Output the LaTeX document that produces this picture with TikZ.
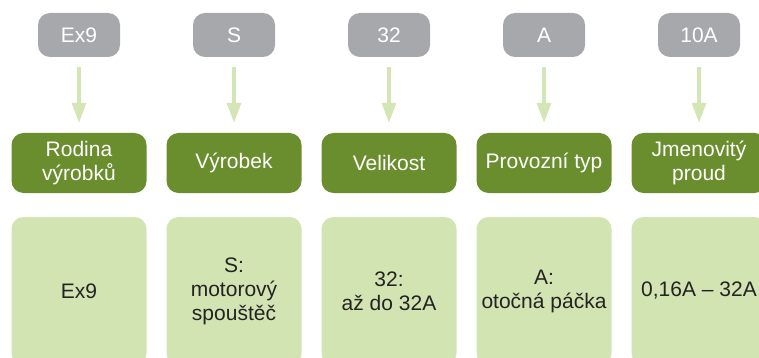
\documentclass[tikz,border=0pt]{standalone}
\usepackage{fontspec}
\setmainfont{Liberation Sans}
\usetikzlibrary{arrows.meta}
\definecolor{codegray}{RGB}{166,168,171}
\definecolor{darkgreen}{RGB}{106,142,46}
\definecolor{lightgreen}{RGB}{211,228,179}
\definecolor{arrowgreen}{RGB}{212,230,181}
\definecolor{textdark}{RGB}{35,35,35}
\tikzset{
  codebox/.style={fill=codegray, draw=none, rounded corners=12pt, minimum width=82pt, minimum height=44pt, text=white, inner sep=0pt, font=\fontsize{21}{24}\selectfont},
  catbox/.style={fill=darkgreen, draw=none, rounded corners=12pt, minimum width=135pt, minimum height=60pt, text=white, inner sep=0pt, align=center, font=\fontsize{21}{24}\selectfont},
  valbox/.style={fill=lightgreen, draw=none, rounded corners=12pt, minimum width=135pt, minimum height=148pt, text=textdark, inner sep=0pt, align=center, font=\fontsize{21}{24}\selectfont},
  codearrow/.style={draw=arrowgreen, line width=3.3pt, -{Triangle[width=14pt,length=20pt]}, shorten <=10pt, shorten >=10pt}
}
\begin{document}
\begin{tikzpicture}[x=1pt,y=-1pt]
\path[use as bounding box] (0,0) rectangle (759,358);
\clip (0,0) rectangle (759,358);
\fill[white] (0,0) rectangle (759,358);
% column 1
\node[codebox] (c1) at (79,35) {Ex9};
\node[catbox] (k1) at (79,163) {Rodina\\výrobků};
\node[valbox] (v1) at (79,291) {Ex9};
% column 2
\node[codebox] (c2) at (234,35) {S};
\node[catbox] (k2) at (234,163) {Výrobek};
\node[valbox] (v2) at (234,291) {S:\\motorový\\spouštěč};
% column 3
\node[codebox] (c3) at (389,35) {32};
\node[catbox] (k3) at (389,163) {Velikost};
\node[valbox] (v3) at (389,291) {32:\\až do 32A};
% column 4
\node[codebox] (c4) at (544,35) {A};
\node[catbox] (k4) at (544,163) {Provozní typ};
\node[valbox] (v4) at (544,291) {A:\\otočná páčka};
% column 5
\node[codebox] (c5) at (699,35) {10A};
\node[catbox] (k5) at (699,163) {Jmenovitý\\proud};
\node[valbox] (v5) at (699,291) {0,16A – 32A};
% arrows
\foreach \i in {1,...,5} {
  \draw[codearrow] (c\i.south) -- (k\i.north);
}
\end{tikzpicture}
\end{document}
